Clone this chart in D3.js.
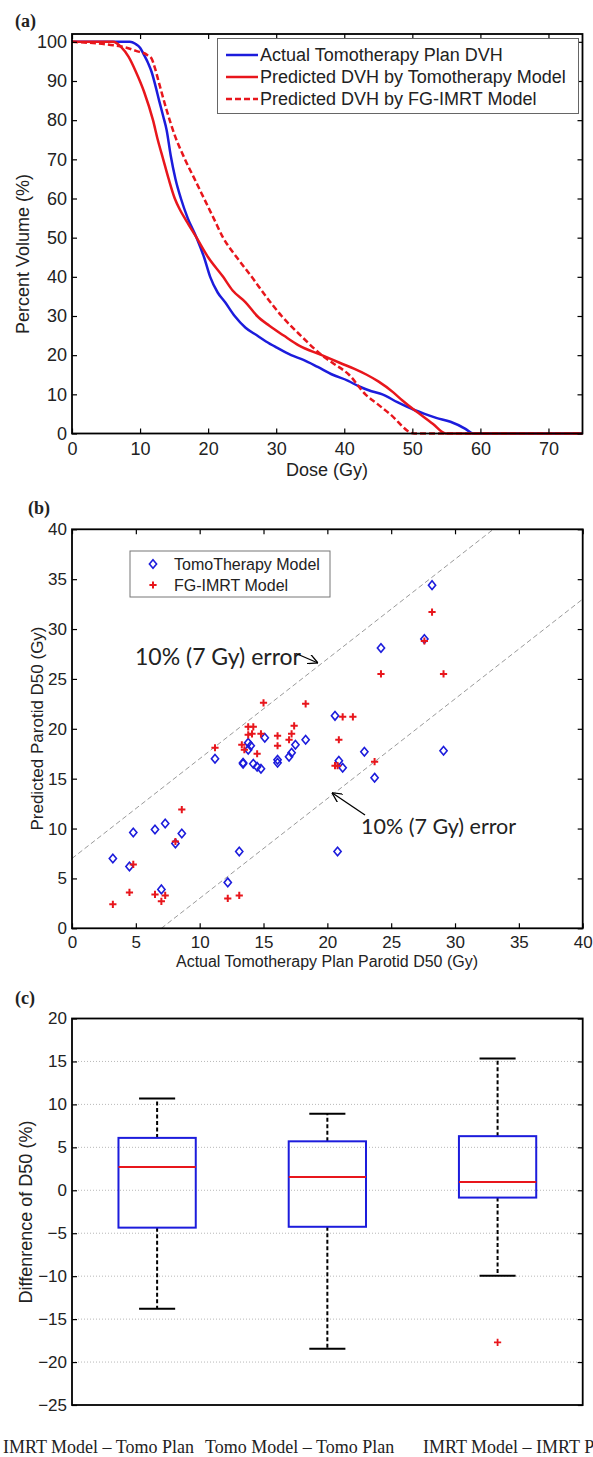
<!doctype html>
<html lang="en">
<head>
<meta charset="UTF-8">
<title>Parotid D50 prediction</title>
<style type="text/css">
body {
  margin: 0;
  padding: 0;
  background: #fff;
}
text {
  font-family: 'Liberation Sans', Arial, sans-serif;
  fill: #222;
}
</style>
<script src="https://cdn.jsdelivr.net/npm/d3@7"></script>
</head>
<body>
<div id="chart"></div>
<script>

// ---- (a) DVH curves, [dose Gy, percent volume]
var actualDvh = [[0,100],[8.5,100],[9.3,99.5],[10,98.5],[10.6,96.6],[11.2,94.5],[11.7,92.3],[12.3,88.5],
  [12.8,85],[13.4,81],[13.9,77.5],[14.5,71],[15.2,65],[16,60],[17,55],[18.3,50],[19.4,45],[20.3,40],
  [21.4,36],[22.5,33.5],[23.9,30],[25.5,27],[27.2,25],[28.5,23.5],[30,22],[32.2,20],[34,18.8],[36.1,17],
  [38.3,15],[40.5,13.5],[42.2,12],[44,10.8],[45.6,10],[47.8,8],[50.3,6],[51.8,5],[53.5,4],[55.6,3],
  [57.8,1.2],[58.9,0],[75,0]];
var tomoModelDvh = [[0,100],[6,100],[7.2,98.7],[8.3,96.2],[9.4,92.3],[10.6,87.2],[11.9,80],[12.6,75],
  [13.4,70],[14.2,65],[15.1,60],[15.9,57],[16.8,54.3],[18.3,50],[20,45],[22.2,40],[23.6,36.5],[25.5,33.5],
  [27.2,30],[29,27.5],[31.1,25],[33.3,22.5],[36.7,20],[39.4,18],[41.5,16.5],[43.3,15],[45,13.3],
  [47.2,10.5],[48.5,8.5],[50.3,6],[51.1,5],[53,2.5],[54.9,0],[75,0]];
var imrtModelDvh = [[0,100],[6.1,99.1],[7.8,98.6],[9.4,97.7],[11.1,96.6],[11.7,95.7],[12.2,93.2],[12.8,89.4],
  [13.9,82.6],[15,76.6],[16.6,70],[18,65],[19.4,60],[20.8,55],[22.2,50],[24.2,45],[26.4,40],[28.5,35],
  [30.8,30],[33.6,25],[36.7,20],[38.3,18],[40.7,15],[43.1,10],[44.9,7.5],[46.7,5],[50.3,0],[75,0]];
var dvhLegend = ['Actual Tomotherapy Plan DVH', 'Predicted DVH by Tomotherapy Model', 'Predicted DVH by FG-IMRT Model'];
var doseTicks = [0, 10, 20, 30, 40, 50, 60, 70];
var volumeTicks = [0, 10, 20, 30, 40, 50, 60, 70, 80, 90, 100];

// ---- (b) predicted vs actual D50, [actual, predicted]
var tomoPoints = [[29.1,17.8],[20.6,21.3],[20.9,16.8],[21.2,16.1],[22.9,17.7],[23.7,15.1],[20.8,7.7],
  [18.3,18.9],[17.5,18.4],[17.2,17.6],[17.0,17.2],[16.1,16.9],[16.1,16.6],[15.1,19.1],[14.8,16.0],
  [14.5,16.2],[14.2,16.5],[14.0,18.3],[13.8,18.6],[13.8,17.9],[13.4,16.6],[13.4,16.5],[11.2,17.0],
  [13.1,7.7],[12.2,4.6],[8.6,9.5],[8.1,8.5],[7.3,10.5],[6.5,9.9],[7.0,3.9],[4.8,9.6],[4.5,6.2],
  [3.2,7.0],[28.2,34.4],[27.6,29.0],[24.2,28.1]];
var imrtPoints = [[15.0,22.6],[18.3,22.5],[21.2,21.2],[22.0,21.2],[20.9,18.9],[20.6,16.3],[20.8,16.3],
  [23.7,16.7],[13.8,20.2],[14.2,20.2],[13.8,19.4],[14.1,19.5],[14.8,19.5],[13.3,18.4],[13.5,17.9],
  [14.5,17.5],[16.1,19.3],[16.1,18.3],[17.4,20.3],[17.2,19.5],[17.0,18.9],[11.2,18.1],[8.6,11.9],
  [8.1,8.7],[4.8,6.4],[4.5,3.6],[3.2,2.4],[6.5,3.4],[7.0,2.7],[7.3,3.3],[12.2,3.0],[13.1,3.3],
  [28.2,31.7],[27.6,28.8],[24.2,25.5],[29.1,25.5]];
var errorGy = 7;
var scatterLegend = ['TomoTherapy Model', 'FG-IMRT Model'];
var errorText = '10% (7 Gy) error';
var d50Ticks = [0, 5, 10, 15, 20, 25, 30, 35, 40];

// ---- (c) difference of D50 (%) box plots
var boxLabels = ['IMRT Model \u2013 Tomo Plan', 'Tomo Model \u2013 Tomo Plan', 'IMRT Model \u2013 IMRT Plan'];
var whiskerHigh = [10.7, 8.9, 15.35];
var q3 = [6.1, 5.7, 6.3];
var medians = [2.7, 1.55, 0.95];
var q1 = [-4.35, -4.25, -0.85];
var whiskerLow = [-13.8, -18.45, -9.95];
var outliers = [[], [], [-17.7]];
var diffTicks = [-25, -20, -15, -10, -5, 0, 5, 10, 15, 20];

var BLUE = '#1c1cdc';
var RED = '#e8161c';

var W = 593, H = 1457;
var svg = d3.select('#chart').append('svg').attr('width', W).attr('height', H);
svg.append('rect').attr('width', W).attr('height', H).attr('fill', '#fff');

function styleAxis(g, size) {
  g.select('.domain').remove();
  g.selectAll('line').attr('stroke', '#000').attr('stroke-width', 1.2);
  g.selectAll('text').style('font-size', size + 'px').attr('fill', '#222')
    .style('font-family', "'Liberation Sans', Arial, sans-serif");
}

// inside ticks on all four sides, labels on bottom/left
function axes(g, x, y, xTicks, yTicks, opts) {
  var x0 = x.range()[0], x1 = x.range()[1], y0 = y.range()[0], y1 = y.range()[1];
  if (xTicks) {
    g.append('g').attr('transform', 'translate(0,' + y0 + ')')
      .call(d3.axisBottom(x).tickValues(xTicks).tickSizeInner(-5).tickSizeOuter(0).tickPadding(opts.xPad))
      .call(styleAxis, opts.size);
    g.append('g').attr('transform', 'translate(0,' + y1 + ')')
      .call(d3.axisTop(x).tickValues(xTicks).tickSizeInner(-5).tickSizeOuter(0).tickFormat(''))
      .call(styleAxis, opts.size);
  }
  g.append('g').attr('transform', 'translate(' + x0 + ',0)')
    .call(d3.axisLeft(y).tickValues(yTicks).tickSizeInner(-5).tickSizeOuter(0).tickPadding(opts.yPad))
    .call(styleAxis, opts.size);
  g.append('g').attr('transform', 'translate(' + x1 + ',0)')
    .call(d3.axisRight(y).tickValues(yTicks).tickSizeInner(-5).tickSizeOuter(0).tickFormat(''))
    .call(styleAxis, opts.size);
}

function frame(g, x, y) {
  var x0 = x.range()[0], x1 = x.range()[1], y0 = y.range()[0], y1 = y.range()[1];
  g.append('rect').attr('x', x0).attr('y', y1).attr('width', x1 - x0).attr('height', y0 - y1)
    .attr('fill', 'none').attr('stroke', '#000').attr('stroke-width', 1.8);
}

function panelLetter(text, x, y) {
  svg.append('text').attr('x', x).attr('y', y).text(text)
    .style('font-family', "'Liberation Serif', 'Times New Roman', serif")
    .style('font-weight', 'bold').style('font-size', '18px').attr('fill', '#000');
}

function yTitle(text, x, cy, size) {
  svg.append('text').attr('transform', 'translate(' + x + ',' + cy + ') rotate(-90)')
    .attr('text-anchor', 'middle').attr('dy', '0.35em').style('font-size', size + 'px').text(text);
}

// ================= (a) =================
var ga = svg.append('g');
var xa = d3.scaleLinear().domain([0, 75]).range([72, 582.5]);
var ya = d3.scaleLinear().domain([0, 102]).range([433.5, 34]);
panelLetter('(a)', 15, 27);

var dvhLine = d3.line().curve(d3.curveMonotoneX)
  .x(function(d) { return xa(d[0]); }).y(function(d) { return ya(d[1]); });
var curves = [
  { data: actualDvh, color: BLUE, dash: null },
  { data: tomoModelDvh, color: RED, dash: null },
  { data: imrtModelDvh, color: RED, dash: '6,3' }
];
curves.forEach(function(c) {
  ga.append('path').attr('d', dvhLine(c.data)).attr('fill', 'none')
    .attr('stroke', c.color).attr('stroke-width', 2.5).attr('stroke-dasharray', c.dash);
});
axes(ga, xa, ya, doseTicks, volumeTicks, { size: 18, xPad: 9, yPad: 5 });
frame(ga, xa, ya);

var lega = ga.append('g');
lega.append('rect').attr('x', 217.5).attr('y', 38.5).attr('width', 361).attr('height', 75)
  .attr('fill', '#fff').attr('stroke', '#666').attr('stroke-width', 1);
curves.forEach(function(c, i) {
  var yy = 55 + i * 22;
  lega.append('line').attr('x1', 226).attr('x2', 258).attr('y1', yy).attr('y2', yy)
    .attr('stroke', c.color).attr('stroke-width', 2.5).attr('stroke-dasharray', c.dash);
  lega.append('text').attr('x', 260).attr('y', yy).attr('dy', '0.36em')
    .style('font-size', '18px').text(dvhLegend[i]);
});

svg.append('text').attr('x', 327).attr('y', 476).attr('text-anchor', 'middle')
  .style('font-size', '18px').text('Dose (Gy)');
yTitle('Percent Volume (%)', 23, 254, 18);

// ================= (b) =================
var gb = svg.append('g');
var xb = d3.scaleLinear().domain([0, 40]).range([72, 582.7]);
var yb = d3.scaleLinear().domain([0, 40]).range([928.3, 529.3]);
panelLetter('(b)', 28, 514);

var errLine = d3.line().x(function(d) { return xb(d[0]); }).y(function(d) { return yb(d[1]); });
[[[0, errorGy], [40 - errorGy, 40]], [[errorGy, 0], [40, 40 - errorGy]]].forEach(function(seg) {
  gb.append('path').attr('d', errLine(seg)).attr('fill', 'none')
    .attr('stroke', '#9a9a9a').attr('stroke-width', 1).attr('stroke-dasharray', '5,3');
});

var diamond = 'M0,-4.3L3.6,0L0,4.3L-3.6,0Z';
var plus = 'M-3.6,0H3.6M0,-3.6V3.6';
gb.selectAll('path.tomo').data(tomoPoints).enter().append('path').attr('class', 'tomo')
  .attr('d', diamond).attr('transform', function(d) { return 'translate(' + xb(d[0]) + ',' + yb(d[1]) + ')'; })
  .attr('fill', 'none').attr('stroke', BLUE).attr('stroke-width', 1.6);
gb.selectAll('path.imrt').data(imrtPoints).enter().append('path').attr('class', 'imrt')
  .attr('d', plus).attr('transform', function(d) { return 'translate(' + xb(d[0]) + ',' + yb(d[1]) + ')'; })
  .attr('fill', 'none').attr('stroke', RED).attr('stroke-width', 2);

axes(gb, xb, yb, d50Ticks, d50Ticks, { size: 17, xPad: 8, yPad: 5 });
frame(gb, xb, yb);

var legb = gb.append('g');
legb.append('rect').attr('x', 130).attr('y', 551).attr('width', 200).attr('height', 46)
  .attr('fill', '#fff').attr('stroke', '#777').attr('stroke-width', 1);
[diamond, plus].forEach(function(sym, i) {
  var yy = 564 + i * 21;
  legb.append('path').attr('d', sym).attr('transform', 'translate(153,' + yy + ')')
    .attr('fill', 'none').attr('stroke', i ? RED : BLUE).attr('stroke-width', i ? 2 : 1.6);
  legb.append('text').attr('x', 174).attr('y', yy).attr('dy', '0.36em')
    .style('font-size', '16px').text(scatterLegend[i]);
});

// annotations
svg.append('defs').append('marker').attr('id', 'arrow')
  .attr('viewBox', '0 0 10 10').attr('refX', 10).attr('refY', 5)
  .attr('markerWidth', 10).attr('markerHeight', 10).attr('markerUnits', 'userSpaceOnUse')
  .attr('orient', 'auto')
  .append('path').attr('d', 'M0,0L10,5L0,10').attr('fill', 'none').attr('stroke', '#000').attr('stroke-width', 1.3);

function annotation(tx, ty, size) {
  svg.append('text').attr('x', tx).attr('y', ty).text(errorText)
    .style('font-family', "Lato, 'Open Sans', sans-serif").style('font-size', size + 'px').attr('fill', '#111');
}
annotation(135, 664.5, 23);
svg.append('line').attr('x1', 296).attr('y1', 653.5).attr('x2', 318).attr('y2', 663)
  .attr('stroke', '#000').attr('stroke-width', 1.3).attr('marker-end', 'url(#arrow)');
annotation(361, 834, 21.5);
svg.append('line').attr('x1', 365).attr('y1', 815).attr('x2', 332).attr('y2', 792.7)
  .attr('stroke', '#000').attr('stroke-width', 1.3).attr('marker-end', 'url(#arrow)');

svg.append('text').attr('x', 327).attr('y', 967).attr('text-anchor', 'middle')
  .style('font-size', '16px').text('Actual Tomotherapy Plan Parotid D50 (Gy)');
yTitle('Predicted Parotid D50 (Gy)', 37, 728.5, 17);

// ================= (c) =================
var gc = svg.append('g');
var xc = d3.scaleLinear().domain([0.5, 3.5]).range([72, 582.7]);
var yc = d3.scaleLinear().domain([-25, 20]).range([1405, 1018.5]);
panelLetter('(c)', 15, 1004);

gc.selectAll('line.grid').data(diffTicks.slice(1, -1)).enter().append('line').attr('class', 'grid')
  .attr('x1', xc.range()[0]).attr('x2', xc.range()[1])
  .attr('y1', function(d) { return yc(d); }).attr('y2', function(d) { return yc(d); })
  .attr('stroke', '#b8b8b8').attr('stroke-width', 1).attr('stroke-dasharray', '1,2');

var boxHalf = 0.227, capHalf = 0.106;
boxLabels.forEach(function(label, i) {
  var pos = i + 1;
  var g = gc.append('g');
  // whiskers
  [[q3[i], whiskerHigh[i]], [q1[i], whiskerLow[i]]].forEach(function(w) {
    g.append('line').attr('x1', xc(pos)).attr('x2', xc(pos)).attr('y1', yc(w[0])).attr('y2', yc(w[1]))
      .attr('stroke', '#000').attr('stroke-width', 2).attr('stroke-dasharray', '4,2.5');
    g.append('line').attr('x1', xc(pos - capHalf)).attr('x2', xc(pos + capHalf))
      .attr('y1', yc(w[1])).attr('y2', yc(w[1])).attr('stroke', '#000').attr('stroke-width', 2);
  });
  g.append('rect').attr('x', xc(pos - boxHalf)).attr('y', yc(q3[i]))
    .attr('width', xc(pos + boxHalf) - xc(pos - boxHalf)).attr('height', yc(q1[i]) - yc(q3[i]))
    .attr('fill', 'none').attr('stroke', BLUE).attr('stroke-width', 2);
  g.append('line').attr('x1', xc(pos - boxHalf)).attr('x2', xc(pos + boxHalf))
    .attr('y1', yc(medians[i])).attr('y2', yc(medians[i])).attr('stroke', RED).attr('stroke-width', 2);
  outliers[i].forEach(function(v) {
    g.append('path').attr('d', plus).attr('transform', 'translate(' + xc(pos) + ',' + yc(v) + ')')
      .attr('fill', 'none').attr('stroke', RED).attr('stroke-width', 1.8);
  });
});

axes(gc, xc, yc, null, diffTicks, { size: 17, xPad: 8, yPad: 5 });
frame(gc, xc, yc);
yTitle('Diffenrence of D50 (%)', 26, 1212, 18);

// category labels under the plot (the reference crops the last one at the page edge)
var labelAnchor = [['end', 194], ['start', 205], ['start', 423]];
boxLabels.forEach(function(label, i) {
  svg.append('text').attr('x', labelAnchor[i][1]).attr('y', 1453)
    .attr('text-anchor', labelAnchor[i][0]).text(label)
    .style('font-family', "'Liberation Serif', 'Times New Roman', serif")
    .style('font-size', '18px').attr('fill', '#111');
});

</script>
</body>
</html>
